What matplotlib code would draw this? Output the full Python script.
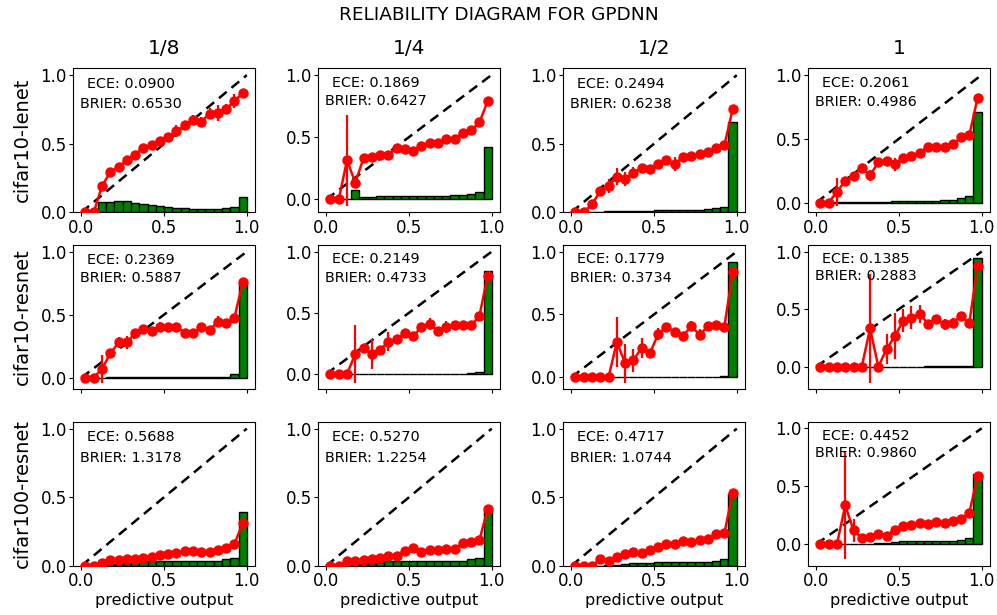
import numpy as np
import matplotlib
matplotlib.use("Agg")
import matplotlib.pyplot as plt

nan = np.nan
bin_centers = [0.025, 0.075, 0.125, 0.175, 0.225, 0.275, 0.325, 0.375, 0.425, 0.475,
               0.525, 0.575, 0.625, 0.675, 0.725, 0.775, 0.825, 0.875, 0.925, 0.975]
col_titles = ["1/8", "1/4", "1/2", "1"]
row_labels = ["cifar10-lenet", "cifar10-resnet", "cifar100-resnet"]

ece = [[0.0900, 0.1869, 0.2494, 0.2061],
       [0.2369, 0.2149, 0.1779, 0.1385],
       [0.5688, 0.5270, 0.4717, 0.4452]]
brier = [[0.6530, 0.6427, 0.6238, 0.4986],
         [0.5887, 0.4733, 0.3734, 0.2883],
         [1.3178, 1.2254, 1.0744, 0.9860]]

# cifar10-lenet
acc_l_18 = [0, 0, 0.194, 0.292, 0.33, 0.38, 0.42, 0.47, 0.49, 0.52, 0.55, 0.59, 0.634, 0.676, 0.66, 0.72, 0.725, 0.754, 0.81, 0.87]
err_l_18 = [0, 0, 0.02, 0.025, 0.02, 0.02, 0.015, 0.02, 0.02, 0.02, 0.02, 0.043, 0.02, 0.03, 0.035, 0.037, 0.058, 0.037, 0.05, 0.022]
cnt_l_18 = [nan, nan, 0.074, 0.074, 0.083, 0.079, 0.071, 0.061, 0.052, 0.044, 0.037, 0.032, 0.030, 0.027, 0.025, 0.025, 0.025, 0.030, 0.037, 0.113]

acc_l_14 = [0, 0, 0.314, 0.134, 0.33, 0.34, 0.355, 0.358, 0.41, 0.40, 0.385, 0.426, 0.45, 0.454, 0.486, 0.486, 0.535, 0.555, 0.617, 0.787]
err_l_14 = [0, 0, 0.366, 0.03, 0.02, 0.02, 0.015, 0.015, 0.02, 0.015, 0.02, 0.015, 0.02, 0.03, 0.02, 0.02, 0.025, 0.025, 0.02, 0.015]
cnt_l_14 = [nan, nan, 0.002, 0.077, 0.022, 0.022, 0.025, 0.027, 0.028, 0.03, 0.03, 0.03, 0.03, 0.03, 0.03, 0.034, 0.038, 0.044, 0.058, 0.418]

acc_l_12 = [0, 0, 0.061, 0.152, 0.194, 0.26, 0.243, 0.287, 0.324, 0.317, 0.354, 0.38, 0.35, 0.405, 0.413, 0.427, 0.442, 0.467, 0.49, 0.75]
err_l_12 = [0, 0, 0.03, 0.02, 0.05, 0.06, 0.05, 0.04, 0.02, 0.02, 0.02, 0.02, 0.05, 0.02, 0.015, 0.015, 0.015, 0.015, 0.015, 0.015]
cnt_l_12 = [nan, nan, 0.002, 0.004, 0.006, 0.007, 0.007, 0.008, 0.009, 0.011, 0.015, 0.016, 0.017, 0.017, 0.017, 0.02, 0.022, 0.03, 0.042, 0.656]

acc_l_1 = [0, 0, 0.085, 0.17, 0.208, 0.272, 0.213, 0.315, 0.328, 0.30, 0.35, 0.368, 0.387, 0.437, 0.432, 0.432, 0.456, 0.512, 0.528, 0.82]
err_l_1 = [0, 0, 0.11, 0.025, 0.03, 0.02, 0.045, 0.025, 0.03, 0.05, 0.02, 0.03, 0.02, 0.015, 0.015, 0.015, 0.02, 0.02, 0.015, 0.02]
cnt_l_1 = [nan, nan, 0.001, 0.002, 0.003, 0.004, 0.005, 0.006, 0.008, 0.011, 0.013, 0.013, 0.014, 0.015, 0.016, 0.019, 0.024, 0.032, 0.048, 0.707]

# cifar10-resnet
acc_r_18 = [0, 0, 0.072, 0.192, 0.28, 0.28, 0.352, 0.387, 0.368, 0.405, 0.405, 0.405, 0.355, 0.352, 0.405, 0.376, 0.445, 0.435, 0.475, 0.755]
err_r_18 = [0, 0, 0.11, 0.03, 0.045, 0.05, 0.02, 0.02, 0.02, 0.035, 0.02, 0.02, 0.02, 0.02, 0.02, 0.02, 0.045, 0.03, 0.02, 0.015]
cnt_r_18 = [nan, nan, 0.001, 0.002, 0.002, 0.002, 0.002, 0.002, 0.002, 0.002, 0.002, 0.002, 0.002, 0.002, 0.002, 0.003, 0.004, 0.006, 0.027, 0.747]

acc_r_14 = [0, 0, 0, 0.163, 0.21, 0.163, 0.196, 0.265, 0.285, 0.334, 0.307, 0.387, 0.409, 0.348, 0.384, 0.40, 0.403, 0.398, 0.472, 0.804]
err_r_14 = [0, 0, 0, 0.233, 0.03, 0.12, 0.02, 0.08, 0.02, 0.03, 0.02, 0.02, 0.05, 0.02, 0.05, 0.02, 0.02, 0.02, 0.02, 0.015]
cnt_r_14 = [nan, nan, nan, 0.001, 0.001, 0.001, 0.001, 0.001, 0.002, 0.002, 0.002, 0.002, 0.002, 0.002, 0.002, 0.003, 0.003, 0.005, 0.017, 0.845]

acc_r_12 = [0, 0, 0, 0, 0, 0.28, 0.113, 0.135, 0.235, 0.19, 0.345, 0.40, 0.36, 0.33, 0.404, 0.34, 0.404, 0.415, 0.40, 0.836]
err_r_12 = [0, 0, 0, 0, 0, 0.2, 0.155, 0.09, 0.08, 0.02, 0.05, 0.02, 0.03, 0.02, 0.04, 0.04, 0.02, 0.02, 0.02, 0.015]
cnt_r_12 = [nan, nan, nan, nan, nan, 0.001, 0.001, 0.001, 0.001, 0.001, 0.002, 0.002, 0.002, 0.002, 0.002, 0.002, 0.003, 0.004, 0.013, 0.916]

acc_r_1 = [0, 0, 0, 0, 0, 0, 0.332, 0, 0.153, 0.265, 0.397, 0.424, 0.456, 0.373, 0.41, 0.368, 0.382, 0.44, 0.38, 0.876]
err_r_1 = [0, 0, 0, 0, 0, 0, 0.47, 0, 0.13, 0.2, 0.1, 0.1, 0.08, 0.03, 0.04, 0.05, 0.04, 0.03, 0.02, 0.02]
cnt_r_1 = [nan, nan, nan, nan, nan, nan, 0.001, 0.001, 0.001, 0.001, 0.001, 0.001, 0.001, 0.002, 0.002, 0.002, 0.002, 0.002, 0.003, 0.947]

# cifar100-resnet
acc_c_18 = [0, 0, 0.017, 0.042, 0.04, 0.05, 0.05, 0.054, 0.061, 0.079, 0.088, 0.091, 0.106, 0.108, 0.103, 0.103, 0.115, 0.133, 0.157, 0.312]
err_c_18 = [0, 0, 0.005, 0.01, 0.008, 0.008, 0.008, 0.008, 0.008, 0.01, 0.008, 0.008, 0.008, 0.008, 0.008, 0.008, 0.01, 0.01, 0.01, 0.015]
cnt_c_18 = [nan, 0.001, 0.005, 0.01, 0.015, 0.022, 0.03, 0.034, 0.037, 0.037, 0.032, 0.032, 0.032, 0.032, 0.032, 0.032, 0.037, 0.047, 0.059, 0.393]

acc_c_14 = [0, 0, 0.032, 0.034, 0.04, 0.047, 0.059, 0.069, 0.069, 0.106, 0.128, 0.10, 0.118, 0.115, 0.125, 0.123, 0.165, 0.172, 0.187, 0.415]
err_c_14 = [0, 0, 0.008, 0.008, 0.008, 0.008, 0.01, 0.01, 0.01, 0.01, 0.01, 0.01, 0.01, 0.01, 0.01, 0.01, 0.01, 0.01, 0.01, 0.015]
cnt_c_14 = [nan, nan, 0.002, 0.007, 0.015, 0.022, 0.027, 0.032, 0.032, 0.037, 0.037, 0.034, 0.034, 0.034, 0.034, 0.034, 0.037, 0.047, 0.059, 0.403]

acc_c_12 = [0, 0, 0.002, 0.047, 0.032, 0.061, 0.088, 0.103, 0.093, 0.115, 0.14, 0.16, 0.157, 0.179, 0.177, 0.187, 0.194, 0.231, 0.236, 0.533]
err_c_12 = [0, 0, 0, 0.015, 0.01, 0.025, 0.02, 0.01, 0.01, 0.01, 0.01, 0.01, 0.01, 0.01, 0.01, 0.01, 0.01, 0.01, 0.01, 0.015]
cnt_c_12 = [nan, nan, nan, 0.002, 0.004, 0.008, 0.015, 0.017, 0.019, 0.022, 0.027, 0.027, 0.027, 0.027, 0.027, 0.027, 0.03, 0.037, 0.049, 0.52]

acc_c_1 = [0, 0, 0, 0.335, 0.118, 0.053, 0.059, 0.091, 0.074, 0.124, 0.156, 0.162, 0.185, 0.174, 0.191, 0.185, 0.197, 0.218, 0.27, 0.59]
err_c_1 = [0, 0, 0, 0.466, 0.1, 0.02, 0.02, 0.02, 0.03, 0.01, 0.01, 0.01, 0.01, 0.01, 0.01, 0.01, 0.01, 0.01, 0.01, 0.015]
cnt_c_1 = [nan, nan, nan, 0.001, 0.001, 0.002, 0.003, 0.006, 0.012, 0.018, 0.024, 0.024, 0.024, 0.024, 0.024, 0.024, 0.026, 0.032, 0.05, 0.603]

panels = [
    [(acc_l_18, err_l_18, cnt_l_18), (acc_l_14, err_l_14, cnt_l_14), (acc_l_12, err_l_12, cnt_l_12), (acc_l_1, err_l_1, cnt_l_1)],
    [(acc_r_18, err_r_18, cnt_r_18), (acc_r_14, err_r_14, cnt_r_14), (acc_r_12, err_r_12, cnt_r_12), (acc_r_1, err_r_1, cnt_r_1)],
    [(acc_c_18, err_c_18, cnt_c_18), (acc_c_14, err_c_14, cnt_c_14), (acc_c_12, err_c_12, cnt_c_12), (acc_c_1, err_c_1, cnt_c_1)],
]

fig, axes = plt.subplots(3, 4, figsize=(9.97, 6.15), dpi=100)
fig.subplots_adjust(left=0.0733, right=0.993, top=0.889, bottom=0.080, wspace=0.346, hspace=0.227)

x = np.array(bin_centers)
for i in range(3):
    for j in range(4):
        ax = axes[i, j]
        acc, err, cnt = panels[i][j]
        cnt = np.array(cnt, dtype=float)
        m = ~np.isnan(cnt)
        ax.bar(x[m], cnt[m], width=0.05, color='green', edgecolor='black', linewidth=1.0, zorder=1)
        ax.plot([0, 1], [0, 1], color='black', linestyle=(0, (4, 2.5)), linewidth=1.8, zorder=2)
        ax.errorbar(x, acc, yerr=err, fmt='o-', color='red', markersize=6.5,
                    linewidth=1.8, elinewidth=1.6, capsize=0, zorder=3)
        ax.text(0.30, 0.937, "ECE: %.4f" % ece[i][j], ha='center', va='center', fontsize=10.4)
        ax.text(0.30, 0.787, "BRIER: %.4f" % brier[i][j], ha='center', va='center', fontsize=10.4)
        ax.set_xticks([0, 0.5, 1.0])
        ax.set_yticks([0, 0.5, 1.0])
        ax.tick_params(labelsize=12, pad=1.5, length=3)
        if i == 1:
            ax.set_xticklabels([])
        if i == 2:
            ax.set_xlabel("predictive output", fontsize=11.5, labelpad=2)
        if i == 0:
            ax.set_title(col_titles[j], fontsize=14.5, pad=10)
        if j == 0:
            ax.set_ylabel(row_labels[i], fontsize=14, labelpad=6)

fig.text(0.5, 0.975, "RELIABILITY DIAGRAM FOR GPDNN", ha='center', va='center', fontsize=13.3)
fig.savefig("out.png", dpi=100)
